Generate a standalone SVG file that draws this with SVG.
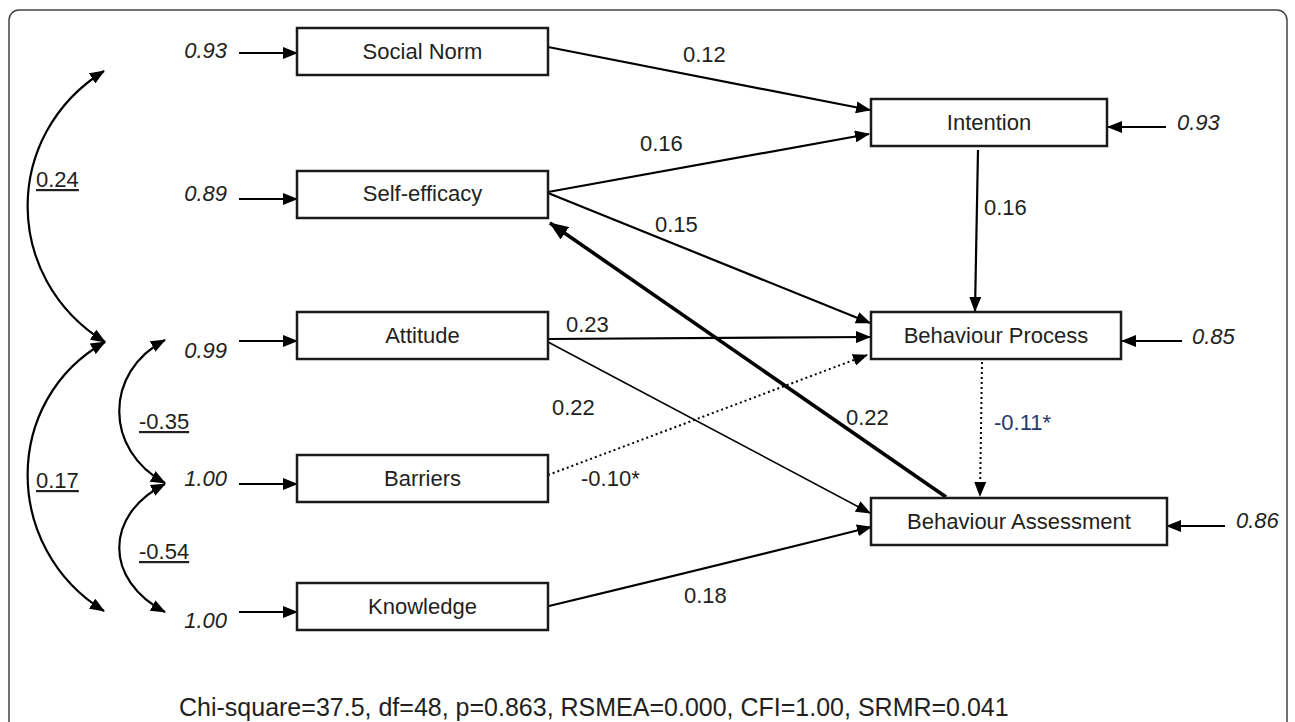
<svg xmlns="http://www.w3.org/2000/svg" width="1295" height="722" viewBox="0 0 1295 722">
<style>
  text { font-family: "Liberation Sans", Arial, sans-serif; fill: #231f20; }
  .lbl { font-size: 22px; text-anchor: middle; }
  .coef { font-size: 22px; }
  .err { font-size: 22px; font-style: italic; }
  .cov { font-size: 22px; text-decoration: underline; }
  .box { fill: #ffffff; stroke: #1a1a1a; stroke-width: 2.5; }
  .ln { fill: none; stroke: #000; stroke-width: 2.2; }
  .thin { fill: none; stroke: #000; stroke-width: 1.6; }
  .thick { fill: none; stroke: #000; stroke-width: 3.6; }
  .dot { fill: none; stroke: #000; stroke-width: 2; stroke-dasharray: 2 3; }
</style>
<defs>
  <marker id="ah" viewBox="0 0 15 12" refX="14" refY="6" markerWidth="15" markerHeight="12" markerUnits="userSpaceOnUse" orient="auto-start-reverse">
    <path d="M0,0 L15,6 L0,12 z" fill="#000"/>
  </marker>
  <marker id="ahL" viewBox="0 0 19 15" refX="18" refY="7.5" markerWidth="19" markerHeight="15" markerUnits="userSpaceOnUse" orient="auto-start-reverse">
    <path d="M0,0 L19,7.5 L0,15 z" fill="#000"/>
  </marker>
</defs>

<rect x="9" y="10" width="1278" height="730" rx="10" ry="10" fill="#ffffff" stroke="#444" stroke-width="1.5"/>

<g id="connectors">
  <!-- covariances -->
  <path class="ln" d="M104,71 C2,135 2,278 105,342" marker-start="url(#ah)" marker-end="url(#ah)"/>
  <path class="ln" d="M105,342 C2,400 2,548 104,611" marker-start="url(#ah)" marker-end="url(#ah)"/>
  <path class="ln" d="M165,340 C104,372 104,450 165,483" marker-start="url(#ah)" marker-end="url(#ah)"/>
  <path class="ln" d="M165,484 C104,515 104,580 165,612" marker-start="url(#ah)" marker-end="url(#ah)"/>
  <!-- error arrows left -->
  <line class="ln" x1="239" y1="53" x2="297" y2="53" marker-end="url(#ah)"/>
  <line class="ln" x1="239" y1="199" x2="297" y2="199" marker-end="url(#ah)"/>
  <line class="ln" x1="239" y1="341" x2="297" y2="341" marker-end="url(#ah)"/>
  <line class="ln" x1="239" y1="484" x2="297" y2="484" marker-end="url(#ah)"/>
  <line class="ln" x1="239" y1="612" x2="297" y2="612" marker-end="url(#ah)"/>
  <!-- error arrows right -->
  <line class="ln" x1="1166" y1="127" x2="1108" y2="127" marker-end="url(#ah)"/>
  <line class="ln" x1="1182" y1="341" x2="1122" y2="341" marker-end="url(#ah)"/>
  <line class="ln" x1="1225" y1="526" x2="1167" y2="526" marker-end="url(#ah)"/>
  <!-- paths -->
  <line class="ln" x1="548" y1="47" x2="870" y2="110" marker-end="url(#ah)"/>
  <line class="ln" x1="548" y1="192" x2="869" y2="134" marker-end="url(#ah)"/>
  <line class="ln" x1="548" y1="193" x2="870" y2="323" marker-end="url(#ah)"/>
  <line class="ln" x1="978" y1="150" x2="975" y2="311" marker-end="url(#ah)"/>
  <line class="ln" x1="548" y1="339" x2="870" y2="337" marker-end="url(#ah)"/>
  <line class="thin" x1="548" y1="342" x2="870" y2="513" marker-end="url(#ah)"/>
  <line class="dot" x1="548" y1="475" x2="867" y2="355" marker-end="url(#ah)"/>
  <line class="dot" x1="982" y1="362" x2="980" y2="496" marker-end="url(#ah)"/>
  <line class="thick" x1="946" y1="497" x2="550" y2="223" marker-end="url(#ahL)"/>
  <path class="ln" d="M549,606 Q700,570 871,527" marker-end="url(#ah)"/>
</g>

<g id="coef-labels">
  <text class="coef" x="683" y="62">0.12</text>
  <text class="coef" x="640" y="151">0.16</text>
  <text class="coef" x="655" y="232">0.15</text>
  <text class="coef" x="984" y="215">0.16</text>
  <text class="coef" x="566" y="332">0.23</text>
  <text class="coef" x="552" y="415">0.22</text>
  <text class="coef" x="581" y="486">-0.10*</text>
  <text class="coef" x="994" y="430" style="fill:#29386b">-0.11*</text>
  <text class="coef" x="846" y="425">0.22</text>
  <text class="coef" x="684" y="603">0.18</text>
  <text class="cov" x="36" y="187">0.24</text>
  <text class="cov" x="36" y="488">0.17</text>
  <text class="cov" x="139" y="429">-0.35</text>
  <text class="cov" x="139" y="559">-0.54</text>
</g>

<g id="node-social-norm">
  <text class="err" x="227" y="58" text-anchor="end">0.93</text>
  <rect class="box" x="297" y="28" width="251" height="47"/>
  <text class="lbl" x="422.5" y="59">Social Norm</text>
</g>
<g id="node-self-efficacy">
  <text class="err" x="227" y="201" text-anchor="end">0.89</text>
  <rect class="box" x="297" y="171" width="251" height="47"/>
  <text class="lbl" x="422.5" y="201">Self-efficacy</text>
</g>
<g id="node-attitude">
  <text class="err" x="227" y="358" text-anchor="end">0.99</text>
  <rect class="box" x="297" y="312" width="251" height="47"/>
  <text class="lbl" x="422.5" y="343">Attitude</text>
</g>
<g id="node-barriers">
  <text class="err" x="227" y="486" text-anchor="end">1.00</text>
  <rect class="box" x="297" y="455" width="251" height="47"/>
  <text class="lbl" x="422.5" y="486">Barriers</text>
</g>
<g id="node-knowledge">
  <text class="err" x="227" y="628" text-anchor="end">1.00</text>
  <rect class="box" x="297" y="583" width="251" height="47"/>
  <text class="lbl" x="422.5" y="614">Knowledge</text>
</g>
<g id="node-intention">
  <rect class="box" x="871" y="99" width="236" height="47"/>
  <text class="lbl" x="989" y="130">Intention</text>
  <text class="err" x="1177" y="130">0.93</text>
</g>
<g id="node-behaviour-process">
  <rect class="box" x="871" y="312" width="250" height="47"/>
  <text class="lbl" x="996" y="343">Behaviour Process</text>
  <text class="err" x="1192" y="344">0.85</text>
</g>
<g id="node-behaviour-assessment">
  <rect class="box" x="871" y="498" width="296" height="47"/>
  <text class="lbl" x="1019" y="529">Behaviour Assessment</text>
  <text class="err" x="1236" y="528">0.86</text>
</g>

<text x="179" y="716" style="font-size:25px">Chi-square=37.5, df=48, p=0.863, RSMEA=0.000, CFI=1.00, SRMR=0.041</text>
</svg>
